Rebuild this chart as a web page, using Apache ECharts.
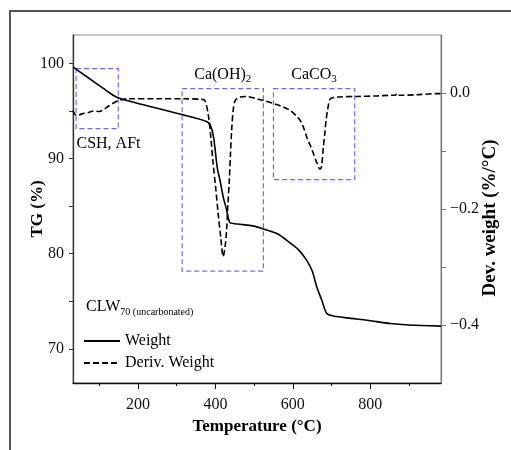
<!DOCTYPE html>
<html>
<head>
<meta charset="utf-8">
<script src="https://cdn.jsdelivr.net/npm/echarts@6/dist/echarts.min.js"></script>
<style>
  html, body { margin: 0; padding: 0; background: #fff; }
  #chart { width: 511px; height: 450px; }
</style>
</head>
<body>
<div id="chart"></div>
<script>
// TG curve (temperature °C, weight %)
var weightTemp = [32, 60, 90, 120, 140, 160, 200, 250, 300, 350, 377, 386, 395, 405, 412, 420, 429, 437, 450, 463, 500, 524, 560, 594, 615, 636, 650, 662, 675, 688, 705, 750, 792, 852, 900, 983]
var weightVal = [99.65, 98.83, 97.97, 97.1, 96.56, 96.24, 95.8, 95.3, 94.78, 94.25, 93.9, 93.6, 92.3, 89.0, 87.7, 86.0, 84.6, 83.3, 83.15, 83.1, 82.9, 82.6, 82.1, 81.1, 80.4, 79.3, 78.2, 76.5, 75.1, 73.7, 73.45, 73.2, 73.0, 72.65, 72.5, 72.38]

// derivative curve (temperature °C, %/°C)
var derivTemp = [32, 36, 42, 55, 70, 85, 100, 110, 125, 140, 155, 175, 250, 320, 365, 373, 381, 388, 394, 401, 407, 414, 420, 425, 429, 432, 436, 439, 442, 446, 451, 463, 480, 507, 530, 550, 575, 593, 610, 619, 628, 636, 645, 653, 662, 670, 674, 679, 683, 686, 691, 697, 714, 766, 820, 852, 865, 869, 873, 921, 973, 983]
var derivVal = [-0.030, -0.036, -0.039, -0.036, -0.034, -0.031, -0.032, -0.029, -0.022, -0.016, -0.012, -0.010, -0.010, -0.010, -0.011, -0.013, -0.035, -0.075, -0.121, -0.165, -0.207, -0.250, -0.282, -0.265, -0.236, -0.195, -0.150, -0.105, -0.064, -0.030, -0.013, -0.007, -0.006, -0.010, -0.014, -0.018, -0.024, -0.030, -0.040, -0.047, -0.060, -0.076, -0.090, -0.104, -0.120, -0.131, -0.128, -0.093, -0.068, -0.047, -0.025, -0.010, -0.007, -0.006, -0.005, -0.004, -0.004, -0.001, -0.004, -0.003, -0.001, -0.001]

// tick labels
var xTicks = [200, 400, 600, 800]
var xMinorTicks = [100, 300, 500, 700, 900]
var tgTicks = [70, 75, 80, 85, 90, 95, 100]
var tgLabels = [70, 80, 90, 100]
var dtgTicks = [-0.4, -0.3, -0.2, -0.1, 0]
var dtgLabels = [-0.4, -0.2, 0]

// dashed boxes: [xFrom, xTo, tgFrom, tgTo, label]
var boxes = [
  [40, 149, 99.47, 93.16, 'CSH, AFt'],
  [314, 524, 97.37, 78.17, 'Ca(OH){s|2}'],
  [550, 760, 97.37, 87.79, 'CaCO{s|3}']
]

var serif = 'Liberation Serif'

function zip (a, b) {
  return a.map(function (v, i) { return [v, b[i]] })
}

var myChart = echarts.init(document.getElementById('chart'))

var boxData = boxes.map(function (b, i) {
  var lbl = {
    show: true,
    formatter: b[4],
    color: '#000',
    fontFamily: serif,
    fontSize: 16,
    rich: { s: { fontSize: 11, fontFamily: serif, padding: [10, 0, 0, 0] } }
  }
  if (i === 0) {
    lbl.position = ['0%', '100%']
    lbl.align = 'left'
    lbl.verticalAlign = 'top'
    lbl.padding = [7, 0, 0, 1]
  } else {
    lbl.position = 'top'
    lbl.distance = 3
  }
  return [{ xAxis: b[0], yAxis: b[2], label: lbl }, { xAxis: b[1], yAxis: b[3] }]
})

var nameFont = { fontFamily: serif, fontSize: 17, fontWeight: 'bold', color: '#000' }

myChart.setOption({
  animation: false,
  grid: {
    left: 73,
    right: 70,
    top: 35,
    bottom: 67,
    show: true,
    borderColor: '#8c8c8c',
    borderWidth: 1
  },
  legend: {
    orient: 'vertical',
    left: 78,
    top: 328,
    itemWidth: 36,
    itemHeight: 14,
    itemGap: 6,
    itemStyle: { color: 'rgba(0,0,0,0)', borderColor: 'rgba(0,0,0,0)', borderWidth: 0 },
    textStyle: { fontFamily: serif, fontSize: 16, color: '#000', lineHeight: 16 },
    data: ['Weight', 'Deriv. Weight']
  },
  graphic: [
    {
      type: 'polyline',
      shape: { points: [[10, 450], [10, 11], [511, 11]] },
      style: { stroke: '#555', lineWidth: 2, fill: null }
    },
    {
      type: 'text',
      left: 86,
      top: 299,
      style: {
        text: 'CLW{s|70 (uncarbonated)}',
        font: '16px "Liberation Serif"',
        fill: '#000',
        rich: { s: { fontSize: 10, fontFamily: serif, padding: [10, 0, 0, 0] } }
      }
    }
  ],
  xAxis: [
    {
      type: 'value',
      min: 32,
      max: 983,
      name: 'Temperature (°C)',
      nameLocation: 'middle',
      nameGap: 35,
      nameMoveOverlap: false,
      nameTextStyle: nameFont,
      axisLine: { onZero: false, lineStyle: { color: '#111', width: 1.3 } },
      axisTick: { customValues: xTicks, length: 6, lineStyle: { color: '#111' } },
      axisLabel: { customValues: xTicks, margin: 14, fontFamily: serif, fontSize: 16, color: '#111' },
      splitLine: { show: false }
    },
    {
      type: 'value',
      min: 32,
      max: 983,
      position: 'bottom',
      axisLine: { show: false, onZero: false },
      axisTick: { customValues: xMinorTicks, length: 3, lineStyle: { color: '#111' } },
      axisLabel: { show: false },
      splitLine: { show: false }
    }
  ],
  yAxis: [
    {
      type: 'value',
      min: 66.4,
      max: 103,
      name: 'TG (%)',
      nameLocation: 'middle',
      nameRotate: 90,
      nameGap: 27,
      nameMoveOverlap: false,
      nameTextStyle: nameFont,
      axisLine: { show: true, onZero: false, lineStyle: { color: '#333', width: 1.3 } },
      axisTick: { customValues: tgTicks, length: 4, lineStyle: { color: '#333' } },
      axisLabel: { customValues: tgLabels, margin: 9, fontFamily: serif, fontSize: 16, color: '#111' },
      splitLine: { show: false }
    },
    {
      type: 'value',
      min: -0.5,
      max: 0.1,
      position: 'right',
      name: 'Dev. weight (%/°C)',
      nameLocation: 'middle',
      nameRotate: 90,
      nameGap: 40,
      nameMoveOverlap: false,
      nameTextStyle: { fontFamily: serif, fontSize: 19, fontWeight: 'bold', color: '#000', padding: [0, 18, 0, 0] },
      axisLine: { show: true, onZero: false, lineStyle: { color: '#777', width: 1.2 } },
      axisTick: { customValues: dtgTicks, length: 5, lineStyle: { color: '#777' } },
      axisLabel: {
        customValues: dtgLabels,
        margin: 9,
        fontFamily: serif,
        fontSize: 16,
        color: '#111',
        formatter: function (v) {
          if (Math.abs(v) < 1e-9) return '0.0'
          return '\u2212' + Math.abs(v).toFixed(1)
        }
      },
      splitLine: { show: false }
    }
  ],
  series: [
    {
      name: 'Weight',
      type: 'line',
      yAxisIndex: 0,
      symbol: 'none',
      smooth: 0.3,
      lineStyle: { color: '#000', width: 1.6 },
      itemStyle: { color: '#000' },
      data: zip(weightTemp, weightVal),
      markArea: {
        silent: true,
        itemStyle: {
          color: 'rgba(0,0,0,0)',
          borderColor: '#6b6bff',
          borderWidth: 1.2,
          borderType: [5, 3]
        },
        data: boxData
      }
    },
    {
      name: 'Deriv. Weight',
      type: 'line',
      yAxisIndex: 1,
      symbol: 'none',
      smooth: 0.3,
      lineStyle: { color: '#000', width: 1.6, type: [6, 3] },
      itemStyle: { color: '#000' },
      data: zip(derivTemp, derivVal)
    }
  ]
})
</script>
</body>
</html>
